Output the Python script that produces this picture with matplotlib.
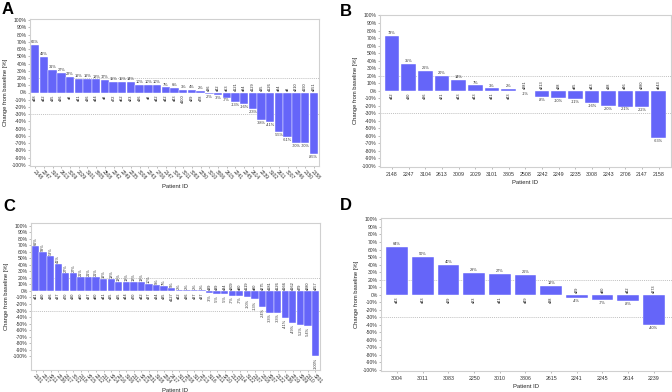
import matplotlib
matplotlib.use("Agg")
import matplotlib.pyplot as plt
from matplotlib.ticker import FixedLocator

plt.rcParams['font.family'] = ['Liberation Sans', 'DejaVu Sans']

# ---------------- Data ----------------
a_ids = ['2148', '2247', '3104', '2613', '3009', '2029', '3101', '3805', '2508', '2242', '2249',
         '2235', '3008', '2243', '2706', '2147', '3004', '3011', '3083', '2250', '3010', '3806',
         '2615', '2241', '2245', '2614', '2239', '3102', '2611', '3007', '2246', '2150', '2158']
a_vals = [66, 49, 31, 27, 22, 19, 19, 18, 17, 15, 15, 14, 10, 10, 10, 7, 6, 3, 4, 2,
          -2, -3, -7, -13, -16, -23, -38, -41, -55, -61, -70, -70, -85]
a_days = ['d48', 'd42', 'd35', 'd36', 'd8', 'd41', 'd36', 'd44', 'd8', 'd72', 'd62', 'd23', 'd36',
          'd8', 'd42', 'd42', 'd43', 'd100', 'd29', 'd78', 'd36', 'd42', 'd63', 'd121', 'd84',
          'd129', 'd35', 'd126', 'd84', 'd8', 'd210', 'd190', 'd251']

b_ids = ['2148', '2247', '3104', '2613', '3009', '2029', '3101', '3805', '2508', '2242', '2249',
         '2235', '3008', '2243', '2706', '2147', '2158']
b_vals = [73, 35, 26, 20, 14, 7, 3, 2, -1, -8, -10, -11, -16, -20, -21, -22, -63]
b_days = ['d42', 'd30', 'd36', 'd21', 'd43', 'd43', 'd41', 'd43', 'd281', 'd213', 'd28', 'd85',
          'd43', 'd38', 'd46', 'd280', 'd843']

c_ids = ['2101', '2217', '3211', '2236', '2317', '3012', '2118', '3215', '2212', '2113', '3214',
         '2216', '3106', '2112', '3213', '2231', '3108', '2204', '2417', '3112', '2208', '3117',
         '2213', '3116', '2211', '3210', '2121', '2114', '3122', '2107', '2318', '3207', '2122',
         '3136', '2219', '3209', '2110', '3201']
c_vals = [69, 59, 53, 41, 27, 27, 21, 21, 21, 19, 18, 13, 13, 13, 13, 10, 9, 7, 5, 2, 2, 2, 2,
          -3, -5, -5, -7, -7, -10, -13, -24, -33, -33, -41, -49, -52, -54, -100]
c_days = ['d41', 'd30', 'd36', 'd37', 'd70', 'd30', 'd80', 'd37', 'd80', 'd41', 'd35', 'd35',
          'd44', 'd70', 'd42', 'd37', 'd34', 'd35', 'd127', 'd42', 'd36', 'd37', 'd37', 'd39',
          'd39', 'd34', 'd209', 'd80', 'd119', 'd80', 'd275', 'd181', 'd126', 'd166', 'd162',
          'd79', 'd280', 'd257']

d_ids = ['3004', '3011', '3083', '2250', '3010', '3806', '2615', '2241', '2245', '2614', '2239']
d_vals = [64, 50, 40, 29, 27, 26, 12, -4, -7, -8, -40]
d_days = ['d43', 'd43', 'd29', 'd23', 'd41', 'd49', 'd38', 'd29', 'd80', 'd42', 'd273']

yticks = list(range(-100, 101, 10))

BAR = '#6565f9'
EDGE = '#4b4bf0'
FRAME = '#d0d0d0'
W, H = 672, 392

fig = plt.figure(figsize=(W / 100, H / 100), dpi=100)


def box(l, t, r, b):
    return [l / W, 1 - b / H, (r - l) / W, (b - t) / H]


def panel(rect, ids, vals, days, ylim, xpad, width, rotate_ticks, rotate_vals, letter, lpos):
    ax = fig.add_axes(box(*rect))
    x = list(range(len(vals)))
    ax.bar(x, vals, width=width, color=BAR, edgecolor='white', linewidth=0.3, zorder=2)
    ax.axhline(20, color='#aaaaaa', lw=0.5, ls=(0, (1.5, 1.5)), zorder=1)
    ax.axhline(-30, color='#aaaaaa', lw=0.5, ls=(0, (1.5, 1.5)), zorder=1)
    ax.set_xlim(-xpad[0], len(vals) - 1 + xpad[1])
    ax.set_ylim(*ylim)
    ax.yaxis.set_major_locator(FixedLocator(yticks))
    ax.set_yticklabels([f'{t}%' for t in yticks], fontsize=3.6, color='#333333')
    ax.tick_params(axis='y', length=1.5, width=0.4, color='#888888', pad=1)
    ax.set_xticks(x)
    if rotate_ticks:
        ax.set_xticklabels(ids, rotation=-45, ha='left', va='top', rotation_mode='anchor',
                           fontsize=3.6, color='#333333')
        ax.tick_params(axis='x', length=1.5, width=0.4, color='#888888', pad=1)
    else:
        ax.set_xticklabels(ids, fontsize=3.8, color='#333333')
        ax.tick_params(axis='x', length=1.5, width=0.4, color='#888888', pad=2.5)
    for s in ax.spines.values():
        s.set_color(FRAME)
        s.set_linewidth(0.8)
    ax.set_ylabel('Change from baseline [%]', fontsize=4.2, color='#222222', labelpad=3)
    ax.set_xlabel('Patient ID', fontsize=4.2, color='#222222', labelpad=2)
    for xi, v, dl in zip(x, vals, days):
        if rotate_vals:
            if v >= 0:
                ax.text(xi, v + 1.5, f'{v}%', rotation=90, ha='center', va='bottom', fontsize=2.8,
                        color='#333333')
                ax.text(xi, -2, dl, rotation=90, ha='center', va='top', fontsize=2.8, color='#222222')
            else:
                ax.text(xi, v - 1.5, f'{v}%', rotation=90, ha='center', va='top', fontsize=2.8,
                        color='#333333')
                ax.text(xi, 2, dl, rotation=90, ha='center', va='bottom', fontsize=2.8, color='#222222')
        else:
            if v >= 0:
                ax.text(xi, v + 1.2, f'{v}%', ha='center', va='bottom', fontsize=2.8, color='#333333')
                ax.text(xi, -2.5, dl, rotation=90, ha='center', va='top', fontsize=2.8, color='#222222')
            else:
                ax.text(xi, v - 1.2, f'{v}%', ha='center', va='top', fontsize=2.8, color='#333333')
                ax.text(xi, 2.5, dl, rotation=90, ha='center', va='bottom', fontsize=2.8, color='#222222')
    fig.text(lpos[0] / W, 1 - lpos[1] / H, letter, fontsize=12, fontweight='bold',
             ha='left', va='center', color='black')
    return ax


panel((30, 19.3, 319, 165.7), a_ids, a_vals, a_days, (-101, 101), (0.6, 0.6), 0.97,
      True, False, 'A', (2, 10))
panel((380, 14.7, 671, 166.7), b_ids, b_vals, b_days, (-101, 101), (0.72, 0.74), 0.88,
      False, False, 'B', (340, 12))
panel((31, 223, 320, 370), c_ids, c_vals, c_days, (-121, 104), (0.6, 0.6), 0.97,
      True, True, 'C', (3, 207))
panel((381, 218.3, 671.5, 370.7), d_ids, d_vals, d_days, (-101, 101.5), (0.63, 0.69), 0.85,
      False, False, 'D', (340, 206))

fig.savefig('out.png', dpi=100)
